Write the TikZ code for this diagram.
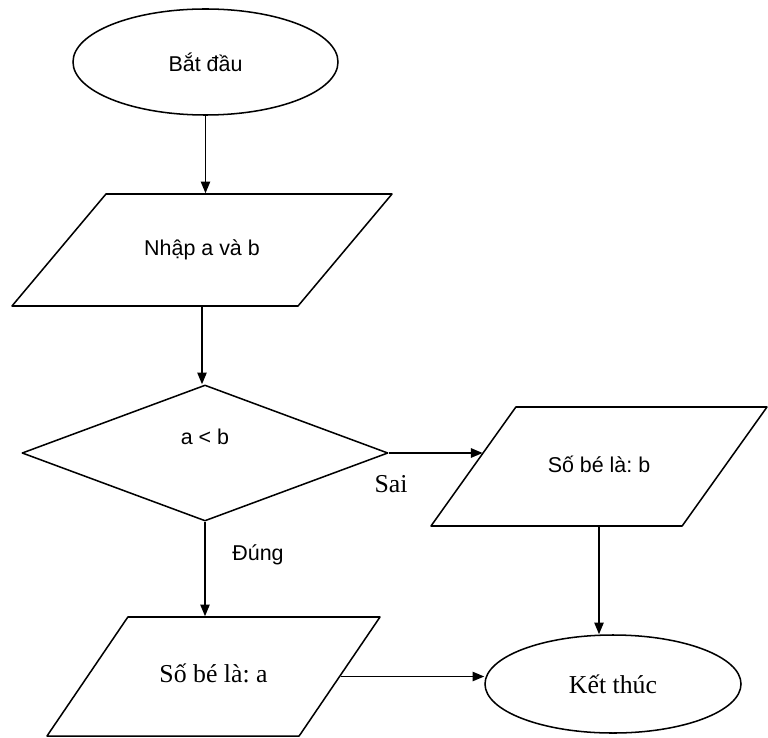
\documentclass[tikz,border=0pt]{standalone}
\usepackage{fontspec}
\setmainfont{Liberation Serif}
\setsansfont{Liberation Sans}
\usetikzlibrary{shapes.geometric,arrows.meta}
\frenchspacing

\begin{document}
\begin{tikzpicture}[x=0.03cm,y=-0.03cm,line width=1.3pt,line join=round,
    sanstext/.style={font=\sffamily\fontsize{18.3}{22}\selectfont},
    seriftext/.style={font=\rmfamily\fontsize{22}{26}\selectfont},
    terminal/.style={draw,ellipse,inner sep=0pt},
    iobox/.style={draw,trapezium,trapezium stretches body,inner xsep=0pt,
                  text height=0.5cm,text depth=0.15cm},
    decision/.style={draw,diamond,inner sep=0pt},
    flow/.style={-{Triangle[length=10pt,width=8pt]}}]
  \useasboundingbox (0,0) rectangle (768,737);

  % shapes
  \node[terminal,sanstext,minimum width=7.95cm,minimum height=3.18cm] (start) at (205.5,62) {Bắt đầu};
  \node[iobox,sanstext,trapezium left angle=50,trapezium right angle=130,
        inner ysep=1.355cm,minimum width=11.4cm] (input) at (202,250) {Nhập a và b};
  \node[decision,sanstext,minimum width=10.98cm,minimum height=4.08cm,text depth=0.96cm] (decide) at (205,453) {a < b};
  \node[iobox,sanstext,trapezium left angle=54.5,trapezium right angle=125.5,
        inner ysep=1.46cm,minimum width=10.08cm] (outb) at (599,466.5) {Số bé là: b};
  \node[iobox,seriftext,trapezium left angle=55.8,trapezium right angle=124.2,
        inner ysep=1.46cm,minimum width=9.99cm] (outa) at (213.5,676.5) {Số bé là: a};
  \node[terminal,seriftext,minimum width=7.68cm,minimum height=2.94cm] (stop) at (613,684) {Kết thúc};

  % labels
  \node[seriftext] (no) at (391,484) {Sai};
  \node[sanstext] (yes) at (258,555) {Đúng};

  % arrows
  \draw[flow] (start.south) -- (start.south |- input.north);
  \draw[flow] (input.center |- input.south) -- (input.center |- decide.north);
  \draw[flow] (decide.east) -- (decide.east -| outb.173);
  \draw[flow] (decide.south) -- (decide.south |- outa.north);
  \draw[flow] (outb.center |- outb.south) -- (outb.center |- stop.north);
  \draw[flow] (outa.east) -- (outa.east -| stop.west);
\end{tikzpicture}
\end{document}
